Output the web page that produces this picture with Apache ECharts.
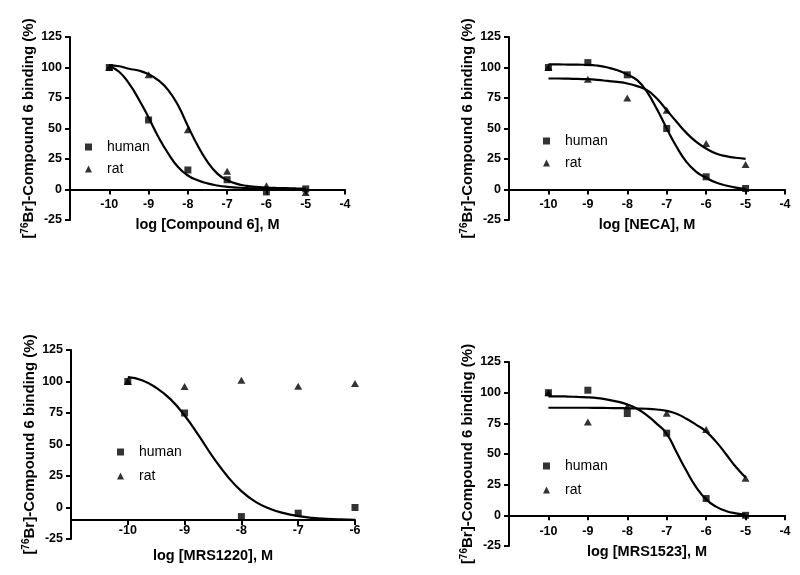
<!DOCTYPE html>
<html>
<head>
<meta charset="utf-8">
<script src="https://cdn.jsdelivr.net/npm/echarts@6/dist/echarts.min.js"></script>
<style>
html,body{margin:0;padding:0;background:#fff;}
#chart{width:800px;height:575px;}
</style>
</head>
<body>
<div id="chart"></div>
<script>
// ---------- data ----------
const dose6 = [-10, -9, -8, -7, -6, -5];
const dose5 = [-10, -9, -8, -7, -6];

// Panel 1: Compound 6
const cmp6Human = [100, 57, 16, 8, -2, 0.5];
const cmp6Rat = [100, 94, 49, 15, 3, -2.5];
// Panel 2: NECA
const necaHuman = [100, 104, 94, 50, 10.4, 0.8];
const necaRat = [100, 90.4, 75, 65, 37.7, 20.5];
// Panel 3: MRS1220
const mrs1220Human = [100, 75, -7.2, -4.5, 0];
const mrs1220Rat = [100, 96, 101, 96.3, 98.4];
// Panel 4: MRS1523
const mrs1523Human = [100, 102, 83, 67, 13.7, 0];
const mrs1523Rat = [100, 76, 88.8, 83.3, 70, 30.3];

// fitted curves
const fitX21 = [-10, -9.75, -9.5, -9.25, -9, -8.75, -8.5, -8.25, -8, -7.75, -7.5, -7.25, -7, -6.75, -6.5, -6.25, -6, -5.75, -5.5, -5.25, -5];
const fitX17 = [-10, -9.75, -9.5, -9.25, -9, -8.75, -8.5, -8.25, -8, -7.75, -7.5, -7.25, -7, -6.75, -6.5, -6.25, -6];

const cmp6HumanFit = [101, 96.5, 87, 74, 59, 43, 29.5, 18.5, 11.5, 7.5, 5, 3.3, 2.2, 1.6, 1.1, 0.8, 0.6, 0.5, 0.4, 0.35, 0.3];
const cmp6RatFit = [102, 101, 99, 97.5, 94.5, 89.5, 81.5, 69, 52, 36, 22.7, 13, 7.7, 4.6, 3, 2.2, 1.6, 1.3, 1.1, 0.9, 0.8];
const necaHumanFit = [102.5, 102.5, 102.4, 102.3, 102.2, 101.5, 100, 97.8, 94.3, 89.6, 80, 66, 50, 35, 22.7, 14.5, 9.6, 5.7, 3.3, 1.6, 0.5];
const necaRatFit = [91, 91, 90.8, 90.6, 90.4, 89.8, 89, 88.2, 86.9, 84.7, 81.4, 74.6, 65, 55.5, 46.4, 39, 33.6, 29.5, 27.3, 26, 25.1];
const mrs1220HumanFit = [103.5, 101, 95, 86, 73, 57, 40, 25, 13, 4.5, -1, -4.5, -6.8, -8.2, -9, -9.5, -9.8];
const mrs1523HumanFit = [97, 97, 96.8, 96.5, 96.2, 95.5, 94.3, 92.7, 90.4, 86.9, 81.4, 74.6, 66.5, 51.4, 36.3, 22.7, 13, 7.1, 3.6, 1.6, 0.5];
const mrs1523RatFit = [87.7, 87.7, 87.7, 87.7, 87.7, 87.6, 87.5, 87.4, 87.3, 87.1, 86.9, 86.3, 85.2, 82.8, 78.7, 73.8, 68.3, 60.1, 50, 39.6, 30.9];

const xTitles = ['log [Compound 6], M', 'log [NECA], M', 'log [MRS1220], M', 'log [MRS1523], M'];
const seriesNames = ['human', 'rat'];
const xAxisCrossAt = [0, 0, -10, 0];   // y value where the x axis line sits

// ---------- layout ----------
const FONT = '"Liberation Sans", Arial, sans-serif';
const Y_MIN = -25, Y_MAX = 125;
const grids = [
  {left: 70, top: 37, width: 275, height: 183},
  {left: 509, top: 37, width: 276, height: 183},
  {left: 71, top: 350, width: 284, height: 189},
  {left: 509, top: 362, width: 276, height: 184}
].map(g => Object.assign({outerBoundsMode: 'none', containLabel: false}, g));
const xMax = [-4, -4, -6, -4];
const labelMargin = [9, 9, 4, 10];
const nameGaps = [28, 28, 28, 29];
const legendPos = [
  {left: 85, top: 139, gap: 6},
  {left: 543, top: 133, gap: 6},
  {left: 117, top: 444, gap: 8},
  {left: 543, top: 458, gap: 8}
];

const panels = [
  {dose: dose6, human: cmp6Human, rat: cmp6Rat, fitX: fitX21, hFit: cmp6HumanFit, rFit: cmp6RatFit},
  {dose: dose6, human: necaHuman, rat: necaRat, fitX: fitX21, hFit: necaHumanFit, rFit: necaRatFit},
  {dose: dose5, human: mrs1220Human, rat: mrs1220Rat, fitX: fitX17, hFit: mrs1220HumanFit, rFit: null},
  {dose: dose6, human: mrs1523Human, rat: mrs1523Rat, fitX: fitX21, hFit: mrs1523HumanFit, rFit: mrs1523RatFit}
];

function zip(xs, ys) { return xs.map((x, i) => [x, ys[i]]); }

const xAxes = [], yAxes = [], series = [], legends = [];

panels.forEach((p, i) => {
  const g = grids[i];
  // shift the bottom axis up to where y equals xAxisCrossAt[i]
  const off = -g.height * (xAxisCrossAt[i] - Y_MIN) / (Y_MAX - Y_MIN);
  xAxes.push({
    gridIndex: i, type: 'value', min: -11, max: xMax[i], interval: 1,
    position: 'bottom', offset: off,
    axisLine: {show: true, onZero: false, lineStyle: {color: '#000', width: 2}},
    axisTick: {show: true, length: 5, lineStyle: {color: '#000', width: 2}},
    splitLine: {show: false},
    axisLabel: {
      color: '#000', fontFamily: FONT, fontWeight: 'bold', fontSize: 12.5, margin: labelMargin[i],
      formatter: v => (v <= -11 ? '' : String(v))
    },
    name: xTitles[i], nameLocation: 'middle', nameGap: nameGaps[i],
    nameTextStyle: {color: '#000', fontFamily: FONT, fontWeight: 'bold', fontSize: 14.5}
  });
  yAxes.push({
    gridIndex: i, type: 'value', min: Y_MIN, max: Y_MAX, interval: 25,
    position: 'left',
    axisLine: {show: true, onZero: false, lineStyle: {color: '#000', width: 2}},
    axisTick: {show: true, length: 5, lineStyle: {color: '#000', width: 2}},
    splitLine: {show: false},
    axisLabel: {color: '#000', fontFamily: FONT, fontWeight: 'bold', fontSize: 12.5, margin: 8},
    name: '{n|[}{s|76}{n|Br]-Compound 6 binding (%)}',
    nameLocation: 'middle', nameGap: 33,
    nameTextStyle: {
      color: '#000', fontFamily: FONT, fontWeight: 'bold', fontSize: 15,
      rich: {
        n: {color: '#000', fontFamily: FONT, fontWeight: 'bold', fontSize: 15, lineHeight: 17},
        s: {color: '#000', fontFamily: FONT, fontWeight: 'bold', fontSize: 10, lineHeight: 17, verticalAlign: 'top', padding: [0, 0, 6, 0]}
      }
    }
  });
  const lp = legendPos[i];
  legends.push({
    orient: 'vertical', left: lp.left, top: lp.top, itemGap: lp.gap, padding: 0,
    itemWidth: 7, itemHeight: 7, selectedMode: false,
    textStyle: {color: '#000', fontFamily: FONT, fontSize: 14, lineHeight: 16, padding: [0, 0, 0, 10]},
    data: [{name: 'human', icon: 'rect'}, {name: 'rat', icon: 'triangle'}]
  });
});

panels.forEach((p, i) => {
  const lineStyle = {color: '#000', width: 2.2};
  series.push({
    name: 'human fit', type: 'line', xAxisIndex: i, yAxisIndex: i,
    data: zip(p.fitX, p.hFit), smooth: true,
    showSymbol: false, symbol: 'none', lineStyle, z: 2, silent: true
  });
  if (p.rFit) {
    series.push({
      name: 'rat fit', type: 'line', xAxisIndex: i, yAxisIndex: i,
      data: zip(p.fitX, p.rFit), smooth: true,
      showSymbol: false, symbol: 'none', lineStyle, z: 2, silent: true
    });
  }
  series.push({
    name: seriesNames[1], type: 'scatter', xAxisIndex: i, yAxisIndex: i,
    data: zip(p.dose, p.rat), symbol: 'triangle', symbolSize: [8, 7],
    itemStyle: {color: '#000'}, z: 3
  });
  series.push({
    name: seriesNames[0], type: 'scatter', xAxisIndex: i, yAxisIndex: i,
    data: zip(p.dose, p.human), symbol: 'rect', symbolSize: 7,
    itemStyle: {color: '#000'}, z: 4
  });
});

const chart = echarts.init(document.getElementById('chart'), null, {renderer: 'canvas'});
chart.setOption({
  backgroundColor: '#fff',
  animation: false,
  grid: grids,
  xAxis: xAxes,
  yAxis: yAxes,
  legend: legends,
  series: series
});
</script>
</body>
</html>
